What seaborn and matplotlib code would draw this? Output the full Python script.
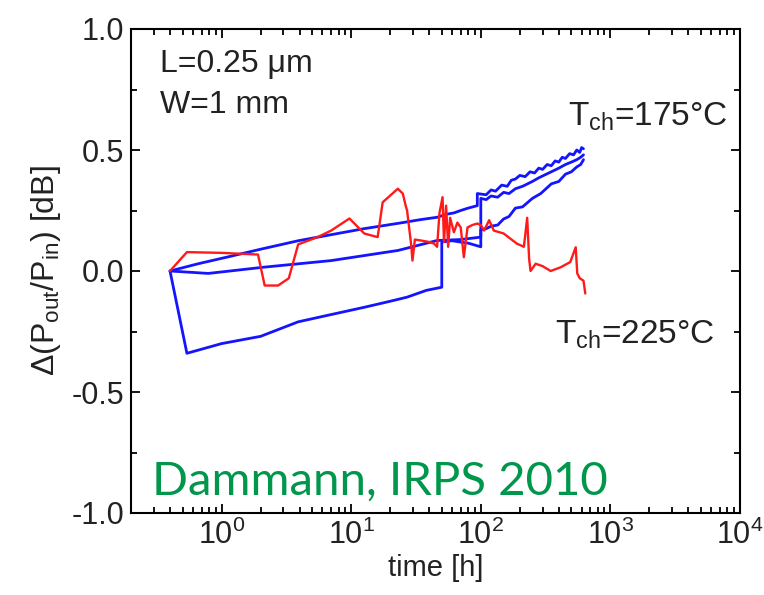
import numpy as np
import pandas as pd
import matplotlib
matplotlib.use("Agg")
import matplotlib.pyplot as plt
import matplotlib.ticker as mticker
import seaborn as sns

# ---- data ----
red_x = [0.40, 0.54, 1.0, 1.91, 2.15, 2.73, 3.3, 3.9, 5.5, 7.0, 9.7, 12.6, 16, 17.5, 22.9, 25, 26.5, 27,
         29, 29.7, 31, 34.5, 40, 43.6, 46, 48, 50.7, 52, 54, 56, 58, 62, 66, 70, 74, 79, 86, 94, 100,
         106, 116, 126, 150, 190, 215, 228, 236, 242, 265, 300, 346, 412, 490, 540, 555, 580, 620, 640]
red_y = [0.0, 0.078, 0.075, 0.068, -0.06, -0.06, -0.03, 0.11, 0.14, 0.167, 0.217, 0.155, 0.14, 0.284,
         0.34, 0.32, 0.264, 0.25, 0.11, 0.043, 0.13, 0.126, 0.12, 0.113, 0.10, 0.24, 0.305, 0.12, 0.27,
         0.10, 0.22, 0.16, 0.20, 0.18, 0.057, 0.18, 0.19, 0.196, 0.19, 0.167, 0.21, 0.167, 0.155, 0.113,
         0.10, 0.22, 0.05, 0.0, 0.03, 0.02, 0.0, 0.015, 0.037, 0.098, -0.01, -0.03, -0.04, -0.093]

blue_a_x = [0.40, 0.66, 1.2, 2.0, 3.9, 7.0, 12.6, 18, 25, 34, 46, 55, 62, 70, 80, 94, 94, 110, 120,
            130, 145, 160, 172, 185, 200, 220, 240, 260, 280, 300, 325, 350, 375, 400, 425, 450, 485,
            520, 550, 580, 600, 620]
blue_a_y = [0.0, 0.03, 0.062, 0.09, 0.125, 0.15, 0.175, 0.188, 0.20, 0.212, 0.222, 0.235, 0.24, 0.25,
            0.26, 0.27, 0.32, 0.315, 0.335, 0.33, 0.355, 0.35, 0.375, 0.38, 0.395, 0.39, 0.41, 0.405,
            0.425, 0.42, 0.44, 0.435, 0.455, 0.45, 0.47, 0.465, 0.485, 0.48, 0.50, 0.49, 0.51, 0.505]

blue_b_x = [0.40, 0.79, 2.14, 7.0, 23, 46, 70, 100, 100, 110, 120, 135, 150, 165, 185, 210, 250, 280,
            320, 350, 400, 450, 500, 550, 590, 620]
blue_b_y = [0.0, -0.01, 0.016, 0.043, 0.085, 0.126, 0.13, 0.14, 0.30, 0.295, 0.31, 0.305, 0.325, 0.32,
            0.34, 0.35, 0.37, 0.385, 0.40, 0.41, 0.425, 0.44, 0.45, 0.46, 0.47, 0.48]

blue_c_x = [0.40, 0.54, 1.0, 2.0, 3.9, 7.0, 12.6, 20, 27, 38, 50, 50, 60, 80, 100, 100, 110, 120, 135,
            150, 165, 185, 210, 250, 290, 350, 400, 450, 500, 550, 590, 620]
blue_c_y = [0.0, -0.34, -0.30, -0.27, -0.21, -0.18, -0.15, -0.125, -0.108, -0.08, -0.067, 0.12, 0.125,
            0.115, 0.10, 0.17, 0.175, 0.185, 0.19, 0.215, 0.225, 0.26, 0.265, 0.30, 0.32, 0.36, 0.37,
            0.40, 0.41, 0.43, 0.44, 0.46]

xlim = (0.2, 1e4)
ylim = (-1.0, 1.0)
yticks = [-1.0, -0.5, 0.0, 0.5, 1.0]
ytick_labels = ["-1.0", "-0.5", "0.0", "0.5", "1.0"]

# ---- style ----
sns.set_style("ticks")
plt.rcParams["font.family"] = ["Liberation Sans", "DejaVu Sans"]
plt.rcParams["mathtext.fontset"] = "custom"
plt.rcParams["mathtext.rm"] = "Liberation Sans"
plt.rcParams["mathtext.it"] = "Liberation Sans:italic"
plt.rcParams["mathtext.bf"] = "Liberation Sans:bold"

fig = plt.figure(figsize=(7.64, 5.95), dpi=100)
ax = fig.add_axes([131 / 764, 1 - 513 / 595, 609 / 764, 484 / 595])

BLUE = "#1414FF"
RED = "#FF1A1A"
for bx, by in [(blue_a_x, blue_a_y), (blue_b_x, blue_b_y), (blue_c_x, blue_c_y)]:
    sns.lineplot(x=bx, y=by, ax=ax, color=BLUE, lw=2.0, sort=False, estimator=None)
sns.lineplot(x=red_x, y=red_y, ax=ax, color=RED, lw=1.7, sort=False, estimator=None)

ax.set_xscale("log")
ax.set_xlim(*xlim)
ax.set_ylim(*ylim)
ax.set_yticks(yticks)
ax.set_yticklabels(ytick_labels)
ax.yaxis.set_minor_locator(mticker.MultipleLocator(0.25))
ax.xaxis.set_major_locator(mticker.LogLocator(base=10, numticks=10))
ax.xaxis.set_minor_locator(mticker.LogLocator(base=10, subs=np.arange(2, 10), numticks=20))
ax.xaxis.set_minor_formatter(mticker.NullFormatter())
ax.xaxis.set_major_formatter(mticker.LogFormatterMathtext())

for s in ax.spines.values():
    s.set_linewidth(1.5)
    s.set_color("black")
ax.tick_params(which="both", direction="in", top=True, right=True, width=1.3, colors="black",
               labelcolor="#222222")
ax.tick_params(which="major", length=6.5, labelsize=22, pad=5)
ax.tick_params(which="minor", length=4.0)

ax.set_xlabel("time [h]", fontsize=21, labelpad=2, color="#222222")
ax.set_ylabel(r"$\Delta$(P$_{\mathrm{out}}$/P$_{\mathrm{in}}$) [dB]", fontsize=23, labelpad=6,
              color="#222222")

ax.text(0.048, 0.912, "L=0.25 μm", transform=ax.transAxes, fontsize=23, va="baseline",
        color="#222222")
ax.text(0.048, 0.826, "W=1 mm", transform=ax.transAxes, fontsize=23, va="baseline",
        color="#222222")
ax.text(0.717, 0.80, r"T$_{\mathrm{ch}}$=175°C", transform=ax.transAxes, fontsize=24,
        va="baseline", color="#222222")
ax.text(0.696, 0.349, r"T$_{\mathrm{ch}}$=225°C", transform=ax.transAxes, fontsize=24,
        va="baseline", color="#222222")
ax.text(0.035, 0.037, "Dammann, IRPS 2010", transform=ax.transAxes, fontsize=34,
        va="baseline", color="#00964B", family=["Lato", "DejaVu Sans"])

fig.savefig("out.png", dpi=100)
